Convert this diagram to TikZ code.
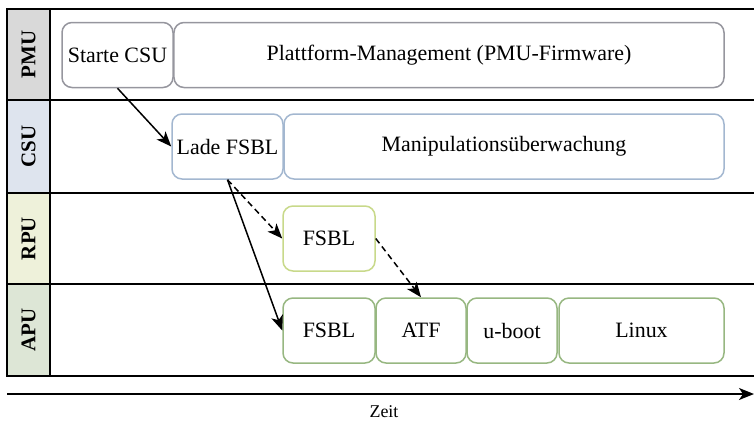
\documentclass[tikz,border=0pt]{standalone}
\usepackage{fontspec}
\setmainfont{Liberation Serif}
\usetikzlibrary{arrows.meta}

\definecolor{pmufill}{HTML}{D9D9D9}
\definecolor{csufill}{HTML}{DEE4EE}
\definecolor{rpufill}{HTML}{EEF1DA}
\definecolor{apufill}{HTML}{DDE6D6}
\definecolor{pmuline}{HTML}{96969E}
\definecolor{csuline}{HTML}{A3B7D0}
\definecolor{rpuline}{HTML}{C8D98A}
\definecolor{apuline}{HTML}{97B781}

\tikzset{
  task/.style={draw, rounded corners=10bp, line width=1.5bp, minimum height=65bp,
    inner sep=0pt, font=\fontsize{22}{26}\selectfont},
  lanelabel/.style={rotate=90, font=\fontsize{21}{25}\selectfont\bfseries},
  flow/.style={-{Stealth[length=15bp,width=12bp,inset=4bp]}, line width=1.5bp},
  dashflow/.style={flow, dash pattern=on 6bp off 4bp},
}

\begin{document}
\begin{tikzpicture}[x=1bp,y=-1bp]
\useasboundingbox (0,0) rectangle (754,424);
% lanes
\foreach \ya/\yb/\fc/\name in {9/100/pmufill/PMU,100/193/csufill/CSU,193/284/rpufill/RPU,284/376/apufill/APU}{
  \filldraw[fill=\fc, line width=1.8bp] (7,\ya) rectangle (50,\yb);
  \node[lanelabel] (lab\name) at (28.5,{(\ya+\yb)/2}) {\name};
}
\foreach \yy in {9,100,193,284,376}
  \draw[line width=1.8bp] (7,\yy) -- (754,\yy);

% PMU
\node[task, draw=pmuline, minimum width=111bp] (starte) at (117.5,55) {Starte CSU};
\node[task, draw=pmuline, minimum width=550bp] (pmfw) at (449,55) {Plattform-Management (PMU-Firmware)};
% CSU
\node[task, draw=csuline, minimum width=111bp] (lade) at (227.5,146.5) {Lade FSBL};
\node[task, draw=csuline, minimum width=440bp] (manip) at (504,146.5) {Manipulationsüberwachung};
% RPU
\node[task, draw=rpuline, minimum width=92bp] (rfsbl) at (329,238.5) {FSBL};
% APU
\node[task, draw=apuline, minimum width=92bp] (afsbl) at (329,330.5) {FSBL};
\node[task, draw=apuline, minimum width=90bp] (atf) at (421,330.5) {ATF};
\node[task, draw=apuline, minimum width=90bp] (uboot) at (512,330.5) {u-boot};
\node[task, draw=apuline, minimum width=165bp] (linux) at (641.5,330.5) {Linux};

% Ablauf
\draw[flow] (starte.south) -- (lade.west);
\draw[flow] (lade.south) -- (afsbl.west);
\draw[dashflow] (lade.south) -- (rfsbl.west);
\draw[dashflow] (rfsbl.east) -- (atf.north);

% Zeitachse
\coordinate (t0) at (7,394);
\coordinate (t1) at (754,394);
\draw[flow] (t0) -- (t1);
\node[font=\fontsize{18}{22}\selectfont] (zeit) at (384,412) {Zeit};
\end{tikzpicture}
\end{document}
